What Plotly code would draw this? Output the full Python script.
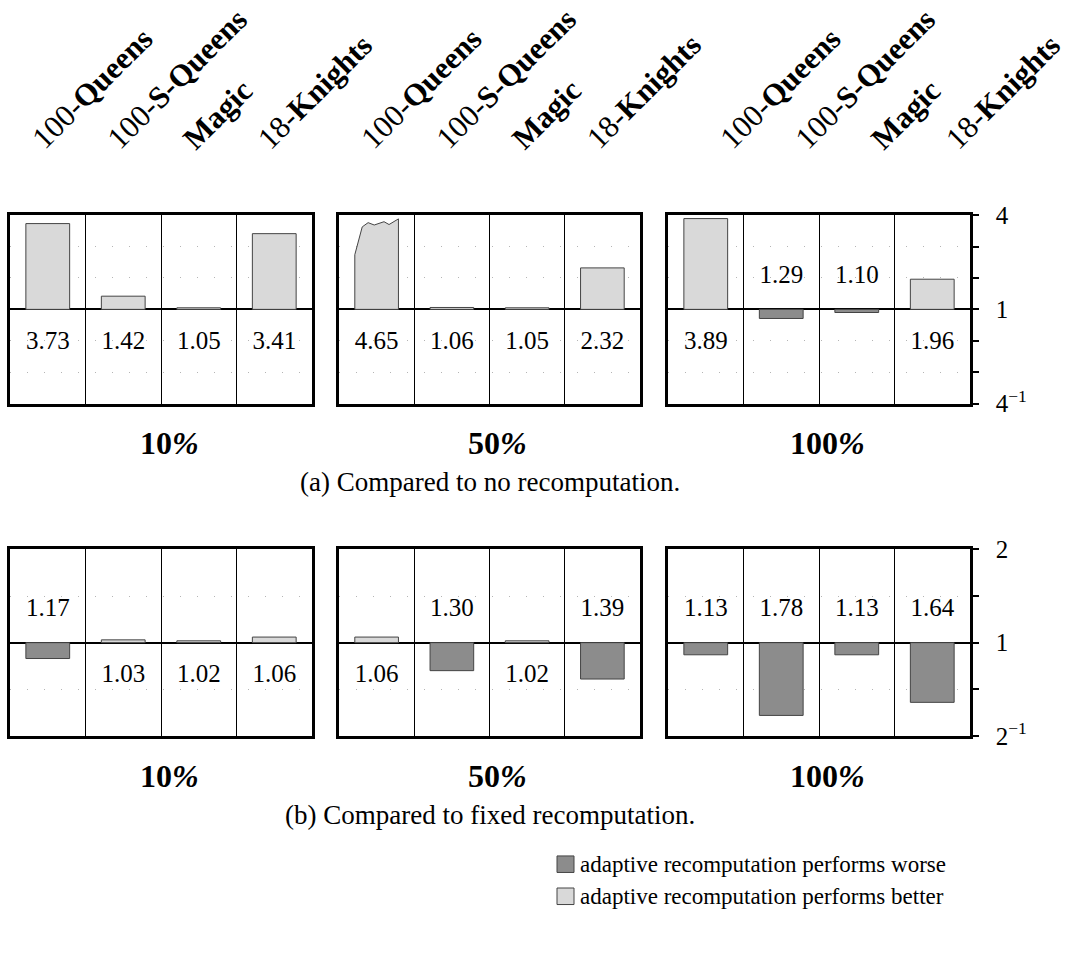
import plotly.graph_objects as go

# ---------------- data ----------------
categories = ["100-Queens", "100-S-Queens", "Magic", "18-Knights"]
category_labels = ["100-<b>Queens</b>", "100-<b>S-Queens</b>", "<b>Magic</b>", "18-<b>Knights</b>"]
budgets = ["10%", "50%", "100%"]

# (a) compared to no recomputation: factor and whether adaptive is worse
no_recomp_factor = [[3.73, 1.42, 1.05, 3.41],
                    [4.65, 1.06, 1.05, 2.32],
                    [3.89, 1.29, 1.10, 1.96]]
no_recomp_worse = [[False, False, False, False],
                   [False, False, False, False],
                   [False, True, True, False]]

# (b) compared to fixed recomputation
fixed_factor = [[1.17, 1.03, 1.02, 1.06],
                [1.06, 1.30, 1.02, 1.39],
                [1.13, 1.78, 1.13, 1.64]]
fixed_worse = [[True, False, False, False],
               [False, True, False, True],
               [True, True, True, True]]

row_tick_vals = [[-3, 0, 3], [-1, 0, 1]]
row_tick_text = [["4<sup>\u22121</sup>", "1", "4"], ["2<sup>\u22121</sup>", "1", "2"]]
row_minor_vals = [[-2, -1, 1, 2], [-0.5, 0.5]]
row_max = [3, 1]
captions = ["(a) Compared to no recomputation.", "(b) Compared to fixed recomputation."]
legend_texts = ["adaptive recomputation performs worse", "adaptive recomputation performs better"]

# ---------------- style ----------------
W, H = 1071, 954
FONT = "Liberation Serif, Times New Roman, serif"
LIGHT = "#d9d9d9"
DARK = "#8c8c8c"
EDGE = "#444444"
panel_x = [(10, 312), (339, 640), (668, 970)]
panel_y = [(208, 402), (552, 744)]
label_shift_px = [0, 0, 30]
BAR_W = 0.58


def px_x(p):
    return p / W


def px_y(p):
    return 1 - p / H


fig = go.Figure()
layout = dict(width=W, height=H, margin=dict(l=0, r=0, t=0, b=0),
              paper_bgcolor="white", plot_bgcolor="white", showlegend=False,
              font=dict(family=FONT, color="black"))
annotations = []
shapes = []

rows = [(no_recomp_factor, no_recomp_worse), (fixed_factor, fixed_worse)]

for r, (factors, worse) in enumerate(rows):
    hmax = row_max[r]
    for c in range(3):
        n = r * 3 + c + 1
        xa = "x" if n == 1 else f"x{n}"
        ya = "y" if n == 1 else f"y{n}"
        vals = factors[c]
        wflags = worse[c]
        signed = [-(v - 1) if w else (v - 1) for v, w in zip(vals, wflags)]
        xs = list(range(len(categories)))
        bar_y = [s if abs(s) <= hmax else None for s in signed]
        colors = [DARK if w else LIGHT for w in wflags]
        fig.add_trace(go.Bar(x=xs, y=bar_y, width=BAR_W, marker=dict(color=colors, line=dict(color=EDGE, width=1)),
                             xaxis=xa, yaxis=ya, hoverinfo="skip"))
        # over-range bars: broken (jagged) top
        for i, s in enumerate(signed):
            if abs(s) > hmax:
                hw = BAR_W / 2
                prof = [(-1, 0), (-1, 0.58), (-0.66, 0.875), (-0.39, 0.92), (-0.11, 0.895),
                        (0.11, 0.91), (0.34, 0.93), (0.57, 0.9), (0.8, 0.93), (1, 0.96), (1, 0), (-1, 0)]
                sign = 1 if s > 0 else -1
                fig.add_trace(go.Scatter(x=[i + fx * hw for fx, fy in prof],
                                         y=[sign * fy * hmax for fx, fy in prof],
                                         mode="lines", fill="toself", fillcolor=colors[i],
                                         line=dict(color=EDGE, width=1), xaxis=xa, yaxis=ya,
                                         hoverinfo="skip"))
        # value labels
        fig.add_trace(go.Scatter(x=xs, y=[0.35 * hmax if w else -0.35 * hmax for w in wflags],
                                 text=[f"{v:.2f}" for v in vals], mode="text",
                                 textfont=dict(size=25, family=FONT, color="black"),
                                 xaxis=xa, yaxis=ya, hoverinfo="skip"))

        x0, x1 = panel_x[c]
        y0, y1 = panel_y[r]
        cell_px = (x1 - x0) / 4
        xkey = "xaxis" if n == 1 else f"xaxis{n}"
        ykey = "yaxis" if n == 1 else f"yaxis{n}"
        layout[xkey] = dict(domain=[px_x(x0), px_x(x1)], range=[-0.5, 3.5], anchor=ya,
                            showline=True, mirror=True, linecolor="black", linewidth=2.5,
                            tickvals=[0.5, 1.5, 2.5], showticklabels=False, ticks="",
                            showgrid=True, gridcolor="black", gridwidth=1.3, zeroline=False,
                            fixedrange=True)
        yax = dict(domain=[px_y(y1), px_y(y0)], range=[-hmax, hmax], anchor=xa,
                   showline=True, mirror=True, linecolor="black", linewidth=2.5,
                   tickvals=row_tick_vals[r], ticktext=row_tick_text[r], showgrid=False,
                   zeroline=True, zerolinecolor="black", zerolinewidth=2.2, fixedrange=True)
        minor = dict(tickvals=row_minor_vals[r], showgrid=True, gridcolor="#b5b5b5",
                     gridwidth=1, griddash="1px,16px")
        if c == 2:
            yax.update(side="right", ticks="outside", ticklen=6, tickwidth=2, tickcolor="black",
                       showticklabels=True, tickfont=dict(size=25, family=FONT, color="black"),
                       ticklabelstandoff=12)
            minor.update(ticks="outside", ticklen=6, tickwidth=2, tickcolor="black")
        else:
            yax.update(ticks="", showticklabels=False)
            minor.update(ticks="")
        yax["minor"] = minor
        layout[ykey] = yax

        # budget subtitle
        b = budgets[c]
        annotations.append(dict(xref="paper", yref="paper", x=px_x((x0 + x1) / 2 + 8),
                                y=px_y(y1 + 41), text=f"<b>{b[:-1]}<i>%</i></b>", showarrow=False,
                                font=dict(size=32, family=FONT, color="black"),
                                xanchor="center", yanchor="middle"))
        # category labels above the top row
        if r == 0:
            for i, lab in enumerate(category_labels):
                annotations.append(dict(xref=xa, yref="paper",
                                        x=i - 0.34 + label_shift_px[c] / cell_px, y=px_y(150),
                                        text=lab, showarrow=False, textangle=-45,
                                        font=dict(size=31, family=FONT, color="black"),
                                        xanchor="left", yanchor="bottom"))
    annotations.append(dict(xref="paper", yref="paper", x=px_x(490), y=px_y(panel_y[r][1] + 81),
                            text=captions[r], showarrow=False,
                            font=dict(size=27, family=FONT, color="black"),
                            xanchor="center", yanchor="middle"))

# legend
for k, (txt, col) in enumerate(zip(legend_texts, [DARK, LIGHT])):
    cy = 876 + 33 * k
    shapes.append(dict(type="rect", xref="paper", yref="paper",
                       x0=px_x(557), x1=px_x(574), y0=px_y(cy + 8.5), y1=px_y(cy - 8.5),
                       fillcolor=col, line=dict(color=EDGE, width=1)))
    annotations.append(dict(xref="paper", yref="paper", x=px_x(578), y=px_y(cy),
                            text=txt, showarrow=False,
                            font=dict(size=23, family=FONT, color="black"),
                            xanchor="left", yanchor="middle"))

layout["annotations"] = annotations
layout["shapes"] = shapes
fig.update_layout(**layout)
fig.write_html("out.html", config={"displayModeBar": False},
               post_script="document.body.style.margin='0px';")
